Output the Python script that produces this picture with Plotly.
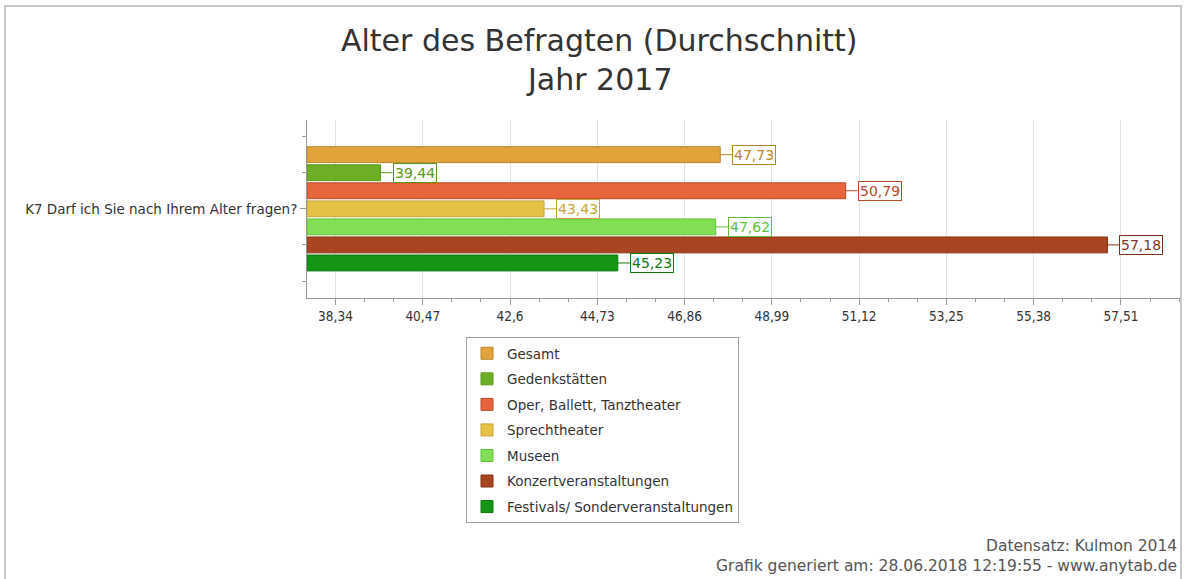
import plotly.graph_objects as go

# --- data -------------------------------------------------------------
question = "K7 Darf ich Sie nach Ihrem Alter fragen?"
series_names = [
    "Gesamt",
    "Gedenkstätten",
    "Oper, Ballett, Tanztheater",
    "Sprechtheater",
    "Museen",
    "Konzertveranstaltungen",
    "Festivals/ Sonderveranstaltungen",
]
series_values = [47.73, 39.44, 50.79, 43.43, 47.62, 57.18, 45.23]
x_tick_values = [38.34, 40.47, 42.6, 44.73, 46.86, 48.99, 51.12, 53.25, 55.38, 57.51]
x_tick_labels = ["38,34", "40,47", "42,6", "44,73", "46,86", "48,99", "51,12", "53,25", "55,38", "57,51"]

fill_colors = ["#E2A43A", "#6CAF24", "#E8643A", "#E6C244", "#82DE52", "#A8441F", "#149614"]
edge_colors = ["#B8862A", "#5A981C", "#B84C2C", "#C8A43A", "#62C03C", "#863218", "#0E7A10"]

X_START = 37.645  # left end of the value axis, bars start here

# plot area in pixels (figure is 1186 x 579)
W, H = 1186, 579
L, R, T, B = 307, 1180, 120, 298


def px_x(p):
    return (p - L) / (R - L)


def px_y(p):
    return (B - p) / (B - T)


fig = go.Figure()
for i, (name, val) in enumerate(zip(series_names, series_values)):
    fig.add_trace(go.Bar(
        x=[val - X_START], y=[i], base=X_START, orientation="h", name=name,
        width=0.88, legendgroup=name,
        marker=dict(color=fill_colors[i], line=dict(color=edge_colors[i], width=1)),
        customdata=[val], hovertemplate="%{customdata}<extra>" + name + "</extra>",
    ))
    fig.add_annotation(
        x=val, y=i, xref="x", yref="y",
        text=f"{val:.2f}".replace(".", ","),
        showarrow=True, arrowhead=0, arrowwidth=1, arrowcolor=edge_colors[i],
        ax=12, ay=0, xanchor="left",
        bordercolor=edge_colors[i], borderwidth=1, borderpad=1, bgcolor="white",
        font=dict(family="DejaVu Sans", size=14, color=edge_colors[i]),
    )

fig.update_layout(
    width=W, height=H,
    margin=dict(l=L, r=W - R, t=T, b=H - B),
    paper_bgcolor="white", plot_bgcolor="white",
    barmode="overlay",
    separators=",.",
    font=dict(family="DejaVu Sans", size=13, color="#333333"),
    showlegend=True,
    legend=dict(
        x=px_x(466), y=px_y(337), xanchor="left", yanchor="top",
        bordercolor="#A0A0A0", borderwidth=1, bgcolor="white",
        font=dict(family="DejaVu Sans", size=13.5, color="#333333"),
        tracegroupgap=5, itemclick=False, itemdoubleclick=False,
    ),
    xaxis=dict(
        range=[X_START, 58.95],
        tickmode="array", tickvals=x_tick_values, ticktext=x_tick_labels,
        ticks="outside", ticklen=6, tickcolor="#999999",
        showline=True, linecolor="#999999", linewidth=1,
        showgrid=True, gridcolor="#E2E2E2", zeroline=False,
        tickfont=dict(family="DejaVu Sans Condensed", size=13.5, color="#333333"),
        minor=dict(tick0=38.34, dtick=0.71, ticks="outside", ticklen=3,
                   tickcolor="#999999", showgrid=False),
    ),
    yaxis=dict(
        range=[7.94, -1.92],
        tickmode="array", tickvals=[(len(series_names) - 1) / 2], ticktext=[question],
        ticks="outside", ticklen=6, tickcolor="#999999",
        showline=True, linecolor="#999999", linewidth=1,
        showgrid=False, zeroline=False,
        tickfont=dict(family="DejaVu Sans", size=13.5, color="#333333"),
        minor=dict(tick0=1, dtick=2, ticks="outside", ticklen=4,
                   tickcolor="#999999", showgrid=False),
    ),
)

# title
fig.add_annotation(text="Alter des Befragten (Durchschnitt)", xref="paper", yref="paper",
                   x=px_x(599), y=px_y(40), showarrow=False, yanchor="middle",
                   font=dict(family="DejaVu Sans", size=30, color="#333333"))
fig.add_annotation(text="Jahr 2017", xref="paper", yref="paper",
                   x=px_x(599), y=px_y(80), showarrow=False, yanchor="middle",
                   font=dict(family="DejaVu Sans", size=30, color="#333333"))

# footer
fig.add_annotation(text="Datensatz: Kulmon 2014", xref="paper", yref="paper",
                   x=px_x(1179), y=px_y(546), showarrow=False, xanchor="right", yanchor="middle",
                   font=dict(family="DejaVu Sans", size=15.5, color="#555555"))
fig.add_annotation(text="Grafik generiert am: 28.06.2018 12:19:55 - www.anytab.de",
                   xref="paper", yref="paper",
                   x=px_x(1179), y=px_y(566), showarrow=False, xanchor="right", yanchor="middle",
                   font=dict(family="DejaVu Sans", size=15.5, color="#555555"))

# outer frame
fig.add_shape(type="rect", xref="paper", yref="paper",
              x0=px_x(5), x1=px_x(1181), y0=px_y(590), y1=px_y(6),
              line=dict(color="#C8C8C8", width=2), layer="below")

fig.write_html("out.html", config={"displayModeBar": False},
               post_script="document.body.style.margin='0';")
